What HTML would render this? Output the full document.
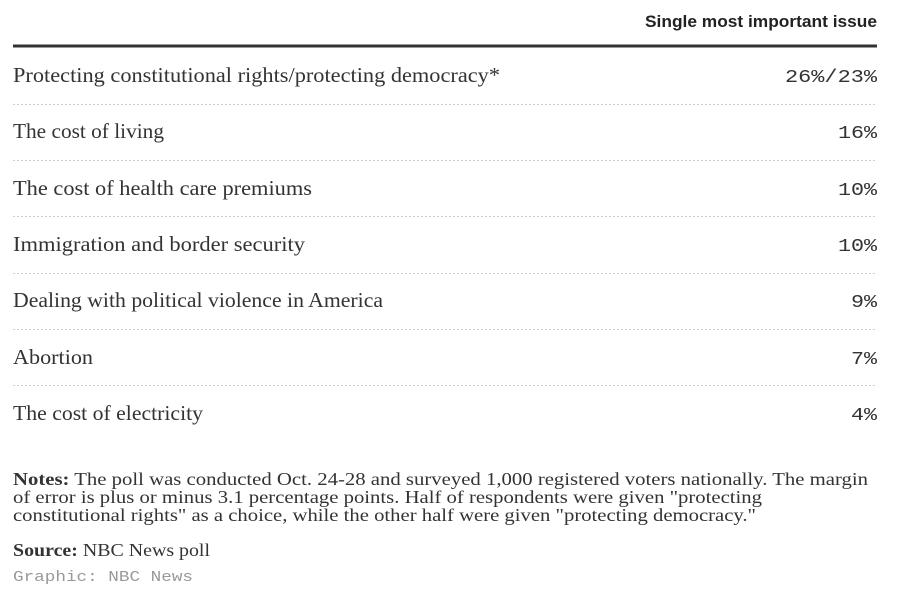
<!DOCTYPE html>
<html><head><meta charset="utf-8"><style>
html,body{margin:0;padding:0;background:#fff;width:900px;height:597px;overflow:hidden}
svg text{font-family:"Liberation Serif",serif;fill:#333}
.m{font-family:"Liberation Mono",monospace;fill:#333}
.h{font-family:"Liberation Sans",sans-serif;font-weight:bold;fill:#222}
</style></head><body>
<svg width="900" height="597" viewBox="0 0 900 597">
<text class="h" x="645" y="27" font-size="17" textLength="232" lengthAdjust="spacingAndGlyphs">Single most important issue</text>
<rect x="13" y="44.5" width="864" height="3" fill="#333"/>
<g stroke="#ccc" stroke-width="1" stroke-dasharray="2,2">
<line x1="13" x2="877" y1="104.5" y2="104.5"/>
<line x1="13" x2="877" y1="160.5" y2="160.5"/>
<line x1="13" x2="877" y1="216.5" y2="216.5"/>
<line x1="13" x2="877" y1="273.5" y2="273.5"/>
<line x1="13" x2="877" y1="329.5" y2="329.5"/>
<line x1="13" x2="877" y1="385.5" y2="385.5"/>
</g>
<g font-size="21">
<text x="13" y="82" textLength="487" lengthAdjust="spacingAndGlyphs">Protecting constitutional rights/protecting democracy*</text>
<text x="13" y="138" textLength="151" lengthAdjust="spacingAndGlyphs">The cost of living</text>
<text x="13" y="195" textLength="299" lengthAdjust="spacingAndGlyphs">The cost of health care premiums</text>
<text x="13" y="251" textLength="292" lengthAdjust="spacingAndGlyphs">Immigration and border security</text>
<text x="13" y="307" textLength="370" lengthAdjust="spacingAndGlyphs">Dealing with political violence in America</text>
<text x="13" y="364" textLength="80" lengthAdjust="spacingAndGlyphs">Abortion</text>
<text x="13" y="420" textLength="190" lengthAdjust="spacingAndGlyphs">The cost of electricity</text>
</g>
<g font-size="18">
<text class="m" x="785" y="82" textLength="92" lengthAdjust="spacingAndGlyphs">26%/23%</text>
<text class="m" x="838" y="138" textLength="39" lengthAdjust="spacingAndGlyphs">16%</text>
<text class="m" x="838" y="195" textLength="39" lengthAdjust="spacingAndGlyphs">10%</text>
<text class="m" x="838" y="251" textLength="39" lengthAdjust="spacingAndGlyphs">10%</text>
<text class="m" x="851" y="307" textLength="26" lengthAdjust="spacingAndGlyphs">9%</text>
<text class="m" x="851" y="364" textLength="26" lengthAdjust="spacingAndGlyphs">7%</text>
<text class="m" x="851" y="420" textLength="26" lengthAdjust="spacingAndGlyphs">4%</text>
</g>
<g font-size="17.5">
<text x="13" y="485" textLength="855" lengthAdjust="spacingAndGlyphs"><tspan font-weight="bold">Notes:</tspan> The poll was conducted Oct. 24-28 and surveyed 1,000 registered voters nationally. The margin</text>
<text x="13" y="503" textLength="749" lengthAdjust="spacingAndGlyphs">of error is plus or minus 3.1 percentage points. Half of respondents were given "protecting</text>
<text x="13" y="521" textLength="743" lengthAdjust="spacingAndGlyphs">constitutional rights" as a choice, while the other half were given "protecting democracy."</text>
<text x="13" y="556" textLength="197" lengthAdjust="spacingAndGlyphs"><tspan font-weight="bold">Source:</tspan> NBC News poll</text>
</g>
<text class="m" x="13" y="581" font-size="15" style="fill:#999" textLength="180" lengthAdjust="spacingAndGlyphs">Graphic: NBC News</text>
</svg>
</body></html>
